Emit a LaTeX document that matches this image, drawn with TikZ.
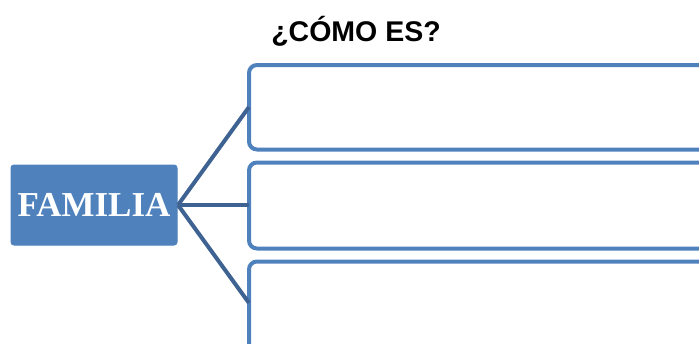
\documentclass[tikz,border=0pt]{standalone}
\usepackage{fontspec}
\setmainfont{Liberation Serif}
\newfontfamily\titlefont{Liberation Sans}
\definecolor{boxblue}{RGB}{79,129,189}
\definecolor{linkblue}{RGB}{62,98,145}
\begin{document}
\begin{tikzpicture}[x=1pt,y=-1pt,
  mainbox/.style={draw=boxblue,fill=boxblue,rounded corners=3pt,line width=1pt},
  emptybox/.style={draw=boxblue,fill=white,rounded corners=8pt,line width=4pt},
  link/.style={draw=linkblue,line width=4pt}]
\useasboundingbox (0,0) rectangle (699,343);
\filldraw[mainbox] (11,165) rectangle (177,245);
\node[inner sep=0pt,text=white,font=\bfseries\fontsize{35}{35}\selectfont] (fam) at (94,205) {FAMILIA};
\coordinate (famR) at (178,205);
\draw[emptybox] (249,65) rectangle (730,149.5);
\draw[emptybox] (249,162.5) rectangle (730,248.5);
\draw[emptybox] (249,261.5) rectangle (730,370);
\coordinate (b1) at (249,107);
\coordinate (b2) at (249,205);
\coordinate (b3) at (249,303);
\draw[link] (famR) -- (b1);
\draw[link] (famR) -- (b2);
\draw[link] (famR) -- (b3);
\node[inner sep=0pt,font=\titlefont\bfseries\fontsize{28.5}{28.5}\selectfont] (title) at (356,31) {¿CÓMO ES?};
\end{tikzpicture}
\end{document}
